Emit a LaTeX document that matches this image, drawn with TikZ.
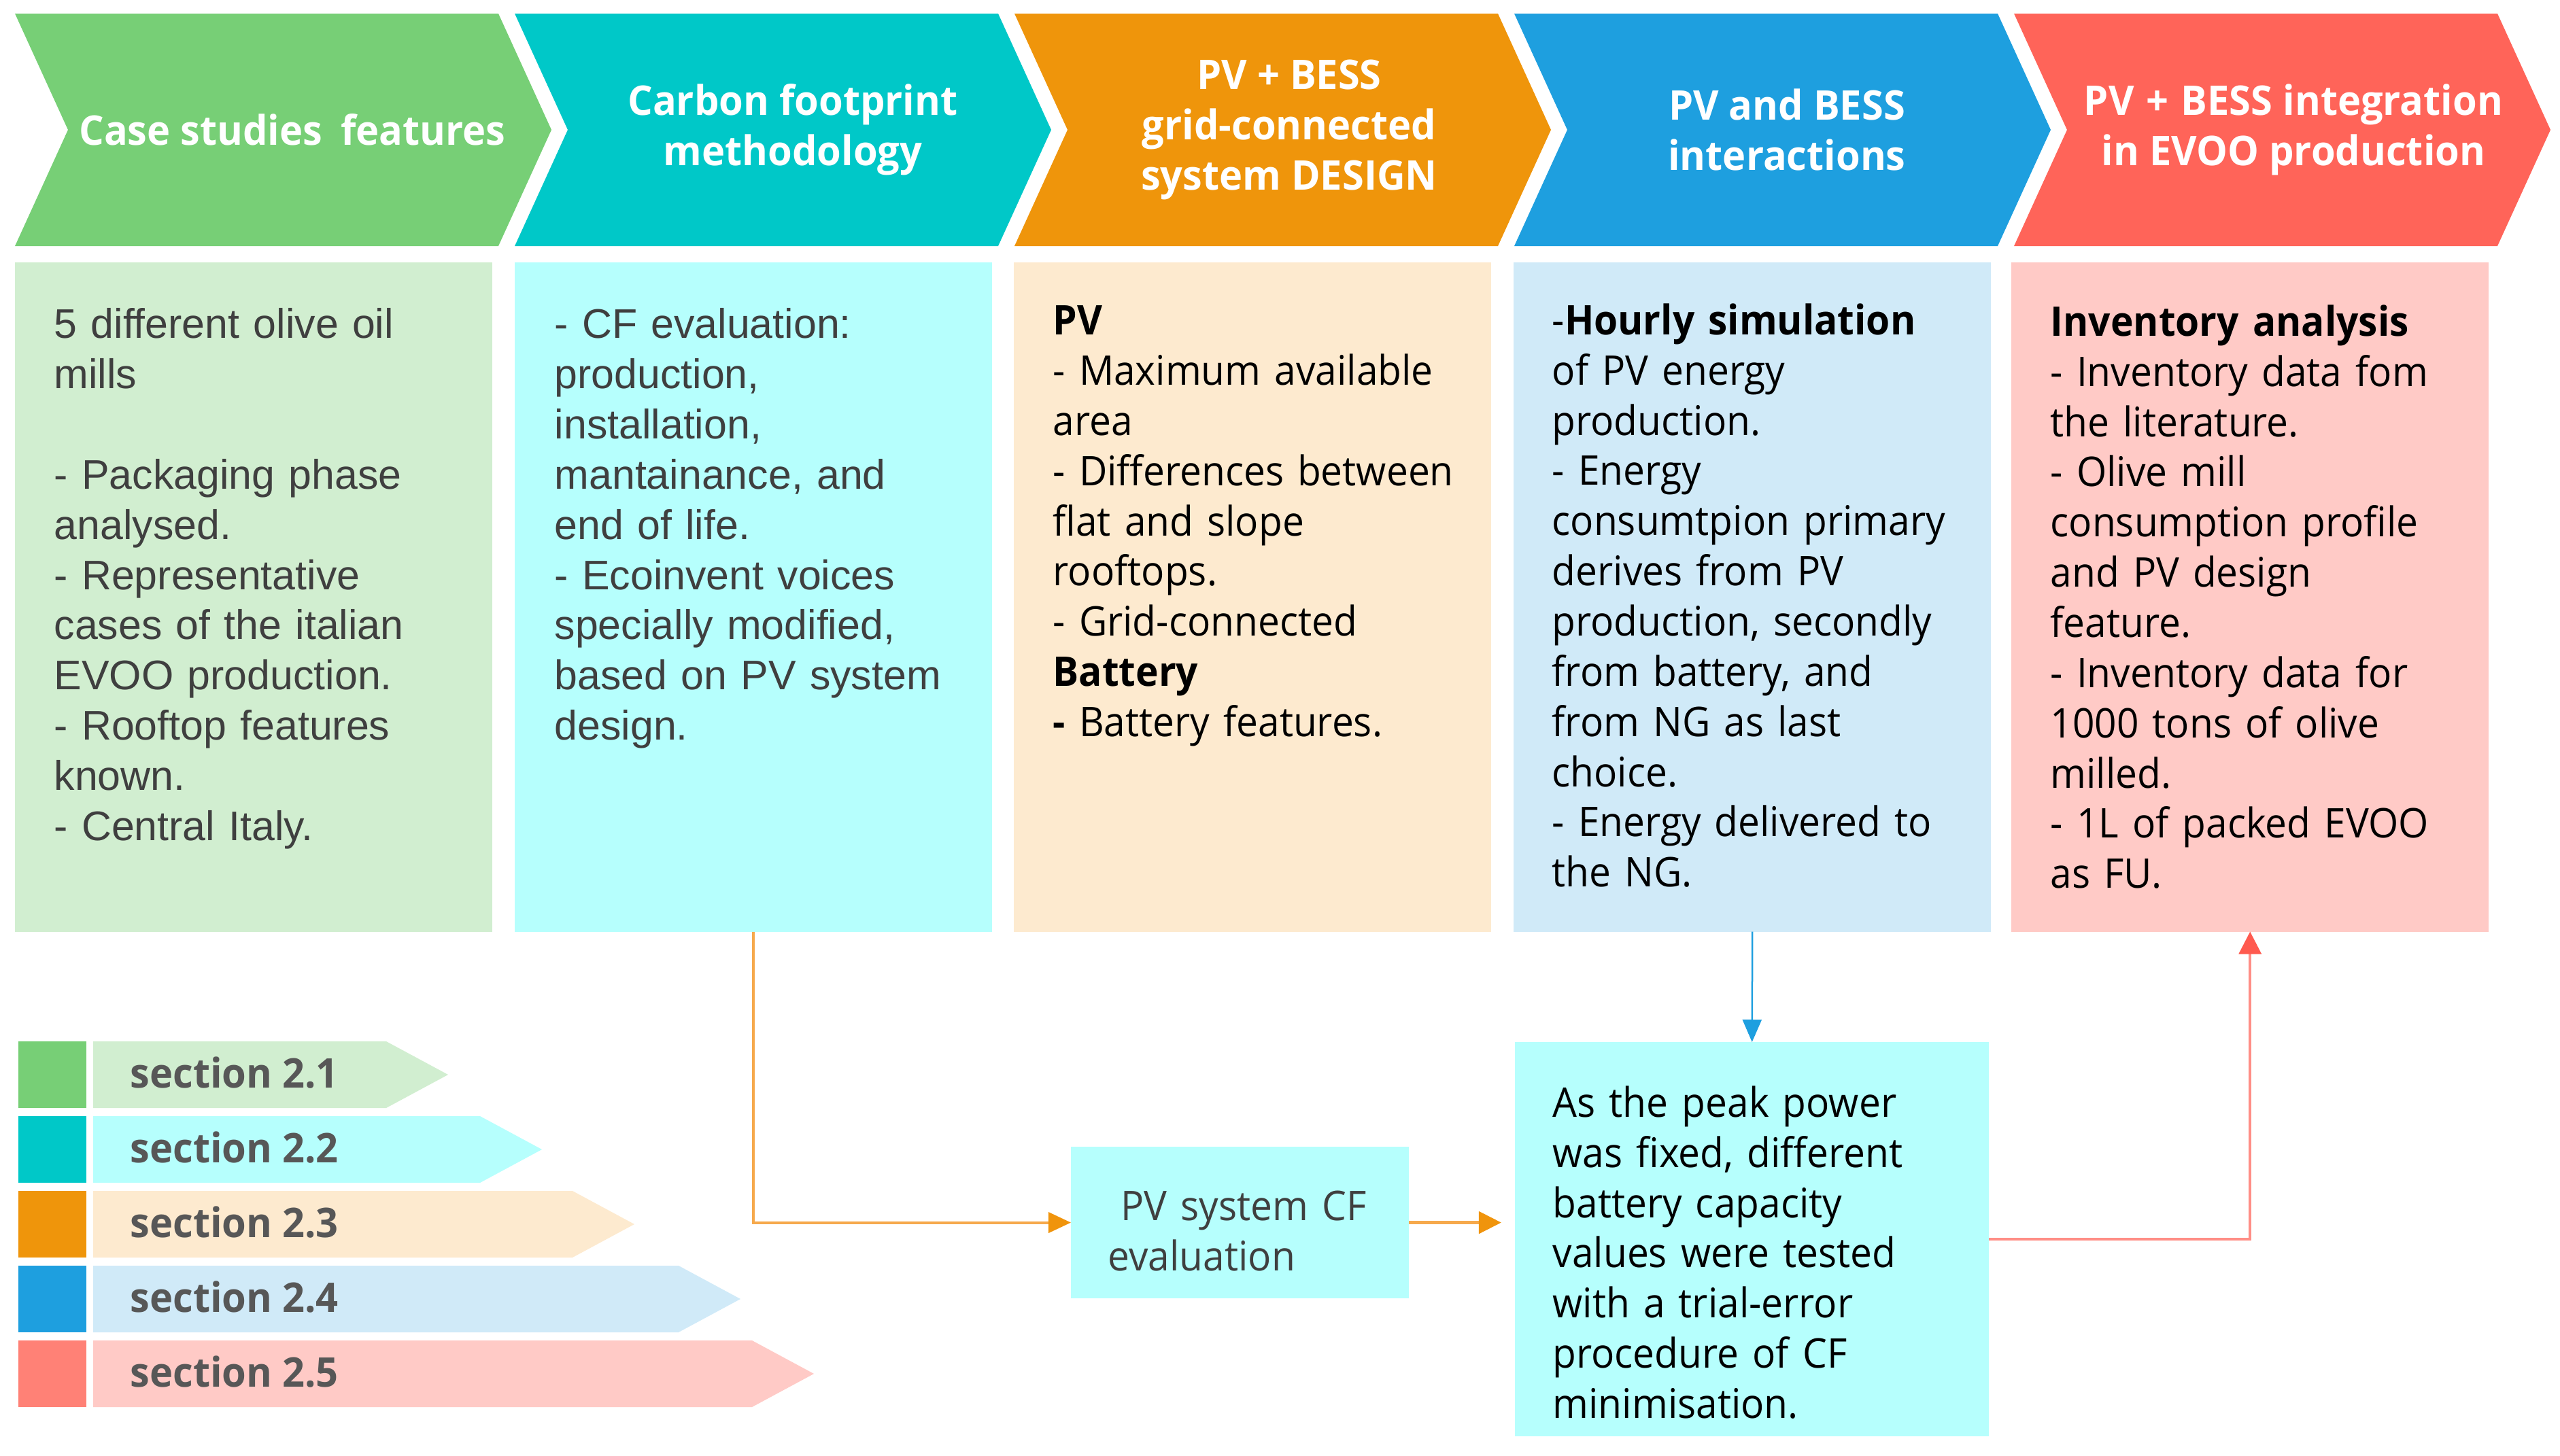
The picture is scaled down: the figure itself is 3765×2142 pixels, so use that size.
\documentclass[tikz,border=0pt]{standalone}
\usepackage{fontspec}
\setmainfont{Liberation Sans}
\newfontfamily\seg{Open Sans}[FakeStretch=0.945]
\newfontfamily\segh{Open Sans}[FakeStretch=0.96]
\usetikzlibrary{arrows.meta,calc}
\definecolor{cgreen}{HTML}{77CF76}
\definecolor{lgreen}{HTML}{D1EED0}
\definecolor{cteal}{HTML}{00C8C8}
\definecolor{lteal}{HTML}{B6FFFD}
\definecolor{corange}{HTML}{EF950B}
\definecolor{lorange}{HTML}{FDEACF}
\definecolor{cblue}{HTML}{1E9FDF}
\definecolor{lblue}{HTML}{D0EAF8}
\definecolor{cred}{HTML}{FF6459}
\definecolor{lred}{HTML}{FFCAC6}
\definecolor{redsq}{HTML}{FF8176}
\definecolor{txtgrey}{HTML}{3F3F3F}
\definecolor{leggrey}{HTML}{575757}
\definecolor{orline}{HTML}{F6A94C}
\definecolor{oratip}{HTML}{F0940C}
\definecolor{redline}{HTML}{FF8E86}
\definecolor{redtip}{HTML}{FF5A4F}
\newcommand\mychev[2]{\fill[#2] (#1,20) -- ++(711,0) -- ++(78,171) -- ++(-78,171) -- ++(-711,0) -- ++(78,-171) -- cycle;}
\newcommand\mylegarrow[3]{\fill[#3] (137,#1) -- (#2,#1) -- ++(91,49) -- ++(-91,49) -- (137,#1+98) -- cycle;}
\begin{document}
\begin{tikzpicture}[x=0.01cm,y=-0.01cm,
  box/.style={draw=none, inner sep=0pt, outer sep=0pt, anchor=north west},
  bigbox/.style={box, minimum width=7.02cm, minimum height=9.84cm},
  ariatxt/.style={inner sep=0pt, anchor=north west, align=left, text width=6.6cm, text=txtgrey,
     font=\fontsize{17.3}{21}\selectfont},
  segtxt/.style={inner sep=0pt, anchor=north west, align=left, text width=6.6cm, text=black,
     font=\seg\fontsize{17.1}{21}\selectfont},
  hdr/.style={inner sep=0pt, align=center, text=white, font=\segh\bfseries\fontsize{17.1}{21}\selectfont},
  legtxt/.style={inner sep=0pt, anchor=base west, text=leggrey, font=\segh\bfseries\fontsize{17.1}{21}\selectfont},
  sq/.style={box, minimum width=1cm, minimum height=0.98cm}
]
\useasboundingbox (0,0) rectangle (3765,2142);
% chevrons
\mychev{22}{cgreen}
\mychev{757}{cteal}
\mychev{1492}{corange}
\mychev{2227}{cblue}
\mychev{2962}{cred}
\node[hdr] (h1) at (430,191) {Case studies\hspace{0.45em}features};
\node[hdr] (h2) at (1166,191) {Carbon footprint\\methodology};
\node[hdr] (h3) at (1896,191) {PV + BESS\\grid-connected\\system DESIGN};
\node[hdr] (h4) at (2628,191) {PV and BESS\\interactions};
\node[hdr] (h5) at (3373,191) {PV\hspace{0.3em}+\hspace{0.3em}BESS integration\\in EVOO production};
% boxes
\node[bigbox, fill=lgreen] (b1) at (22,386) {};
\node[bigbox, fill=lteal] (b2) at (757,386) {};
\node[bigbox, fill=lorange] (b3) at (1491,386) {};
\node[bigbox, fill=lblue] (b4) at (2226,386) {};
\node[bigbox, fill=lred] (b5) at (2958,386) {};
\node[ariatxt] (t1) at (79,453) {5 different olive oil\\mills\\[21pt]- Packaging phase\\analysed.\\- Representative\\cases of the italian\\EVOO production.\\- Rooftop features\\known.\\- Central Italy.};
\node[ariatxt] (t2) at (815,453) {- CF evaluation:\\production,\\installation,\\mantainance, and\\end of life.\\- Ecoinvent voices\\specially modified,\\based on PV system\\design.};
\node[segtxt] (t3) at (1548,449) {\textbf{PV}\\- Maximum available\\area\\- Differences between\\flat and slope\\rooftops.\\- Grid-connected\\\textbf{Battery}\\\textbf{-} Battery features.};
\node[segtxt] (t4) at (2282,446) {-\textbf{Hourly simulation}\\of PV energy\\production.\\- Energy\\consumtpion primary\\derives from PV\\production, secondly\\from battery, and\\from NG as last\\choice.\\- Energy delivered to\\the NG.};
\node[segtxt] (t5) at (3015,448) {\textbf{Inventory analysis}\\- Inventory data fom\\the literature.\\- Olive mill\\consumption profile\\and PV design\\feature.\\- Inventory data for\\1000 tons of olive\\milled.\\- 1L of packed EVOO\\as FU.};
% lower boxes
\node[box, fill=lteal, minimum width=6.97cm, minimum height=5.8cm] (b6) at (2228,1533) {};
\node[box, fill=lteal, minimum width=4.97cm, minimum height=2.23cm] (b7) at (1575,1687) {};
\node[segtxt] (t6) at (2283,1597) {As the peak power\\was fixed, different\\battery capacity\\values were tested\\with a trial-error\\procedure of CF\\minimisation.};
\node[segtxt, text=txtgrey, text width=4.5cm] (t7) at (1629,1751) {\hspace*{0.19cm}PV system CF\\evaluation};
% legend
\node[sq, fill=cgreen] (s1) at (27,1532) {};
\node[sq, fill=cteal] (s2) at (27,1642) {};
\node[sq, fill=corange] (s3) at (27,1752) {};
\node[sq, fill=cblue] (s4) at (27,1862) {};
\node[sq, fill=redsq] (s5) at (27,1972) {};
\mylegarrow{1532}{568}{lgreen}
\mylegarrow{1642}{706}{lteal}
\mylegarrow{1752}{842}{lorange}
\mylegarrow{1862}{998}{lblue}
\mylegarrow{1972}{1106}{lred}
\node[legtxt] (l1) at (191,1600) {section 2.1};
\node[legtxt] (l2) at (191,1710) {section 2.2};
\node[legtxt] (l3) at (191,1820) {section 2.3};
\node[legtxt] (l4) at (191,1930) {section 2.4};
\node[legtxt] (l5) at (191,2040) {section 2.5};
% connectors
\draw[orline, line width=0.04cm, -{Triangle[length=0.33cm,width=0.3cm,color=oratip]}] (b2.south) |- (b7.west);
\draw[orline, line width=0.05cm, shorten >=0.2cm, -{Triangle[length=0.33cm,width=0.32cm,color=oratip]}] (b7.east) -- (b7.east -| b6.west);
\draw[cblue, line width=0.025cm, -{Triangle[length=0.33cm,width=0.28cm]}] (b4.south) -- (b6.north);
\draw[redline, line width=0.035cm, -{Triangle[length=0.33cm,width=0.33cm,color=redtip]}] (b6.east) -| (b5.south);
\end{tikzpicture}
\end{document}
